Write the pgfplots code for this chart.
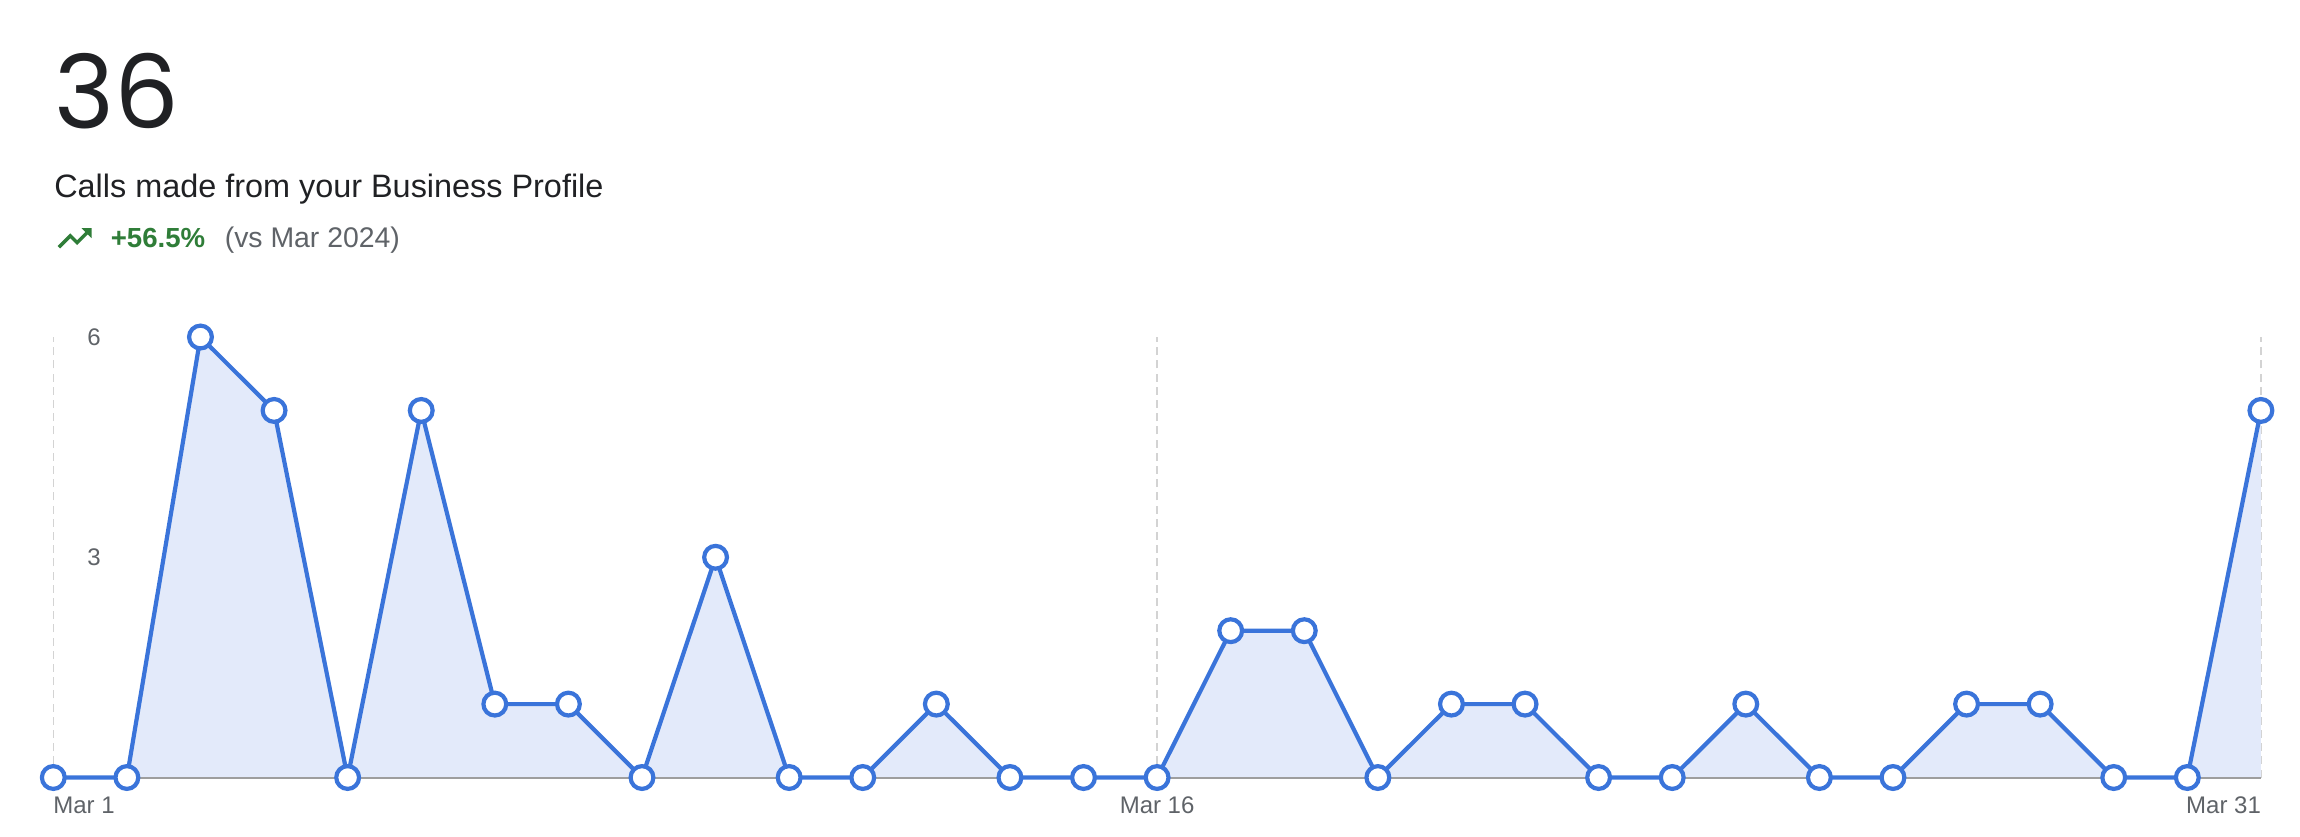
\documentclass[border=0pt]{standalone}
\usepackage{pgfplots}
\usepackage{pgfplotstable}
\pgfplotsset{compat=1.18}
\usepackage{fontspec}
\setmainfont{Liberation Sans}
\newfontfamily\numfont{Poppins}
\definecolor{lineblue}{HTML}{3A74DA}
\definecolor{fillblue}{HTML}{E3EAFA}
\definecolor{gridgray}{HTML}{D3D3D3}
\definecolor{basegray}{HTML}{9E9E9E}
\definecolor{tickgray}{HTML}{5F6368}
\definecolor{titleblack}{HTML}{202124}
\definecolor{upgreen}{HTML}{2F7D38}
\pgfplotstableread{
day calls
1 0
2 0
3 6
4 5
5 0
6 5
7 1
8 1
9 0
10 3
11 0
12 0
13 1
14 0
15 0
16 0
17 2
18 2
19 0
20 1
21 1
22 0
23 0
24 1
25 0
26 0
27 1
28 1
29 0
30 0
31 5
}\calls
\begin{document}
\begin{tikzpicture}[x=0.25pt,y=-0.25pt]
\path[use as bounding box] (0,0) rectangle (2300,836);
\node[anchor=base west, inner sep=0pt, text=titleblack] at (54,128) {\numfont\fontsize{25.5pt}{26pt}\selectfont 36};
\node[anchor=base west, inner sep=0pt, text=titleblack] at (53.5,197) {\fontsize{8.1pt}{9pt}\selectfont Calls made from your Business Profile};
\begin{scope}[shift={(54.3,217.8)}, x=0.425pt, y=-0.425pt]
\fill[upgreen] (16,6) -- (18.29,8.29) -- (13.41,13.17) -- (9.41,9.17) -- (2,16.59) -- (3.41,18) -- (9.41,12) -- (13.41,16) -- (19.71,9.71) -- (22,12) -- (22,6) -- cycle;
\end{scope}
\node[anchor=base west, inner sep=0pt, text=upgreen] at (110,247) {\fontsize{6.9pt}{8pt}\selectfont\bfseries +56.5\%};
\node[anchor=base west, inner sep=0pt, text=tickgray] at (224,247) {\fontsize{7.1pt}{8pt}\selectfont (vs Mar 2024)};
\begin{axis}[
  at={(13.325pt,-194.375pt)}, anchor=south west,
  scale only axis, width=551.9pt, height=110.125pt,
  xmin=1, xmax=31, ymin=0, ymax=6, clip=false,
  axis line style={draw=none}, major tick length=0pt,
  xtick={1,16,31},
  xticklabels={\makebox[0pt][l]{Mar 1}, Mar 16, \makebox[0pt][r]{Mar 31}},
  ytick={3,6},
  xmajorgrids, ymajorgrids=false,
  major grid style={gridgray, dash pattern=on 2pt off 1.3pt, line width=0.35pt},
  tick label style={font=\fontsize{6pt}{7pt}\selectfont, text=tickgray},
  xticklabel style={anchor=base, yshift=-9.1pt, inner sep=0pt},
  yticklabel style={anchor=west, xshift=8.35pt, inner sep=0pt},
  /pgf/number format/assume math mode=true,
]
\addplot[draw=none, fill=fillblue] table[x=day, y=calls] {\calls} \closedcycle;
\draw[basegray, line width=0.5pt] (axis cs:1,0) -- (axis cs:31,0);
\addplot[lineblue, line width=1.05pt, mark=*, mark size=2.85pt, mark options={fill=white, draw=lineblue, line width=1.05pt}] table[x=day, y=calls] {\calls};
\end{axis}
\end{tikzpicture}
\end{document}
